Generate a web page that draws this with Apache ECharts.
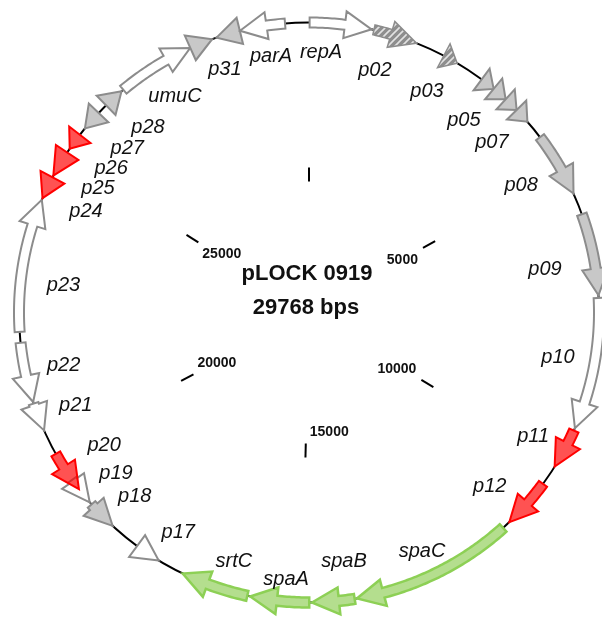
<!DOCTYPE html>
<html>
<head>
<meta charset="utf-8">
<script src="https://cdn.jsdelivr.net/npm/echarts@6/dist/echarts.min.js"></script>
<style>
  html, body { margin: 0; padding: 0; background: #ffffff; }
  #chart { width: 602px; height: 619px; }
</style>
</head>
<body>
<div id="chart"></div>
<script>
// ---- plasmid data -------------------------------------------------------
const plasmidName = 'pLOCK 0919';
const plasmidLength = 29768;

const geneNames = ['repA', 'p02', 'p03', 'p04', 'p05', 'p06', 'p07', 'p08', 'p09', 'p10',
  'p11', 'p12', 'spaC', 'spaB', 'spaA', 'srtC', 'p17', 'p18', 'p19', 'p20',
  'p21', 'p22', 'p23', 'p24', 'p25', 'p26', 'p27', 'p28', 'umuC', 'p30', 'p31', 'parA'];
const geneStarts = [10, 1070, 2290, 3020, 3270, 3530, 3780, 4366, 5805, 7204,
  9428, 10437, 11409, 14135, 14880, 15900, 17465, 18408, 18946, 19225,
  20343, 20840, 22010, 24247, 24655, 25170, 25584, 26096, 26476, 27770, 28230, 28630];
const geneEnds = [1030, 1800, 2540, 3270, 3530, 3780, 4040, 5441, 7160, 9386,
  10097, 11271, 14097, 14835, 15851, 17018, 17890, 18900, 19411, 19914,
  20813, 21830, 24217, 24625, 25096, 25452, 25922, 26437, 27767, 28154, 28627, 29376];
// 1 = forward (clockwise), -1 = reverse
const geneStrands = [1, 1, 1, 1, 1, 1, 1, 1, 1, 1,
  1, 1, 1, 1, 1, 1, -1, -1, -1, -1,
  -1, -1, 1, -1, -1, -1, -1, 1, 1, 1, -1, -1];
const geneGroups = ['white', 'hatch', 'hatch', 'grey', 'grey', 'grey', 'grey', 'grey', 'grey', 'white',
  'red', 'red', 'green', 'green', 'green', 'green', 'white', 'grey', 'white', 'red',
  'white', 'white', 'white', 'red', 'red', 'red', 'grey', 'grey', 'white', 'grey', 'grey', 'white'];

// genes whose names are printed
const labelNames = ['repA', 'p02', 'p03', 'p05', 'p07', 'p08', 'p09', 'p10', 'p11', 'p12',
  'spaC', 'spaB', 'spaA', 'srtC', 'p17', 'p18', 'p19', 'p20', 'p21', 'p22',
  'p23', 'p24', 'p25', 'p26', 'p27', 'p28', 'umuC', 'p31', 'parA'];

const tickValues = [0, 5000, 10000, 15000, 20000, 25000];
const tickLabels = ['', '5000', '10000', '15000', '20000', '25000'];

// ---- layout --------------------------------------------------------------
// label anchors: [position along the map (bp), distance from centre]
const labelAnchors = [[219, 260], [1258, 251], [2320, 251], [3212, 247], [3889, 250],
  [4893, 247], [6579, 240], [8280, 253], [9829, 256], [11076, 251],
  [12788, 264], [14221, 251], [15290, 268], [16273, 260], [17423, 256],
  [18482, 253], [19040, 251], [19607, 244], [20536, 251], [21326, 251],
  [22855, 247], [24351, 245], [24852, 245], [25313, 245], [25809, 245],
  [26370, 245], [27134, 254], [28188, 257], [29071, 259]];

const RING = 290;        // backbone radius
const BODY = 5;          // half width of an arrow body
const HEAD = 13.5;       // half width of an arrow head
const HEAD_LEN = 27;     // arrow head length along the ring
const TICK_IN = 131, TICK_OUT = 145;
const FONT = '"Liberation Sans", Arial, sans-serif';

// diagonal hatching used for p02 / p03
const hatch = document.createElement('canvas');
hatch.width = 7; hatch.height = 7;
(function () {
  const c = hatch.getContext('2d');
  c.fillStyle = '#8e8e8e';
  c.fillRect(0, 0, 7, 7);
  c.strokeStyle = 'rgba(235,235,235,0.9)';
  c.lineWidth = 1.6;
  c.beginPath();
  c.moveTo(-1, 8); c.lineTo(8, -1);
  c.moveTo(-4, 4); c.lineTo(4, -4);
  c.moveTo(3, 11); c.lineTo(11, 3);
  c.stroke();
})();

const groupStyle = {
  white: { fill: '#ffffff', stroke: '#8c8c8c', lineWidth: 2 },
  grey:  { fill: '#c8c8c8', stroke: '#8c8c8c', lineWidth: 2 },
  hatch: { fill: { image: hatch, repeat: 'repeat' }, stroke: '#8c8c8c', lineWidth: 1.5 },
  red:   { fill: 'rgba(255,0,0,0.68)', stroke: '#ff0000', lineWidth: 2 },
  green: { fill: '#b4de8e', stroke: '#8dd055', lineWidth: 2.5 }
};

function arrowPoints(api, s, e, strand) {
  const circ = 2 * Math.PI * RING;
  const lenPx = (e - s) / plasmidLength * circ;
  const headBp = Math.min(HEAD_LEN, lenPx) / circ * plasmidLength;
  const step = 40;
  const P = (r, bp) => api.coord([r, bp]);
  const pts = [];
  if (strand > 0) {
    const h = e - headBp;
    if (h > s + 1) {
      for (let bp = s; bp < h; bp += step) pts.push(P(RING + BODY, bp));
      pts.push(P(RING + BODY, h));
    }
    pts.push(P(RING + HEAD, h));
    pts.push(P(RING, e));
    pts.push(P(RING - HEAD, h));
    if (h > s + 1) {
      pts.push(P(RING - BODY, h));
      for (let bp = h - step; bp > s; bp -= step) pts.push(P(RING - BODY, bp));
      pts.push(P(RING - BODY, s));
    }
  } else {
    const h = s + headBp;
    pts.push(P(RING, s));
    pts.push(P(RING + HEAD, h));
    if (e > h + 1) {
      for (let bp = h; bp < e; bp += step) pts.push(P(RING + BODY, bp));
      pts.push(P(RING + BODY, e));
      pts.push(P(RING - BODY, e));
      for (let bp = e - step; bp > h; bp -= step) pts.push(P(RING - BODY, bp));
      pts.push(P(RING - BODY, h));
    }
    pts.push(P(RING - HEAD, h));
  }
  return pts;
}

const geneData = geneNames.map((n, i) => [RING, geneStarts[i], i]);

const chart = echarts.init(document.getElementById('chart'), null, { renderer: 'canvas' });

chart.setOption({
  animation: false,
  backgroundColor: '#ffffff',
  polar: { center: [309, 312.5], radius: [0, 320] },
  angleAxis: {
    type: 'value', min: 0, max: plasmidLength, startAngle: 90, clockwise: true,
    axisLine: { show: false }, axisTick: { show: false },
    axisLabel: { show: false }, splitLine: { show: false }
  },
  radiusAxis: {
    type: 'value', min: 0, max: 320,
    axisLine: { show: false }, axisTick: { show: false },
    axisLabel: { show: false }, splitLine: { show: false }
  },
  graphic: [
    { type: 'text', x: 307, y: 274, z: 10,
      style: { text: plasmidName, font: 'bold 22px ' + FONT, fill: '#111', align: 'center', verticalAlign: 'middle' } },
    { type: 'text', x: 306, y: 308, z: 10,
      style: { text: plasmidLength + ' bps', font: 'bold 22px ' + FONT, fill: '#111', align: 'center', verticalAlign: 'middle' } }
  ],
  series: [
    {
      // backbone
      type: 'custom', coordinateSystem: 'polar', z: 1, silent: true,
      data: [[RING, 0]],
      renderItem: function (params, api) {
        const c = api.coord([0, 0]);
        const p = api.coord([RING, 0]);
        const r = Math.hypot(p[0] - c[0], p[1] - c[1]);
        return { type: 'circle', shape: { cx: c[0], cy: c[1], r: r },
          style: { fill: 'none', stroke: '#000', lineWidth: 2 } };
      }
    },
    {
      // white underlay so the backbone stops at every gene
      type: 'custom', coordinateSystem: 'polar', z: 2, silent: true,
      data: geneData,
      renderItem: function (params, api) {
        const i = params.dataIndex;
        return { type: 'polygon',
          shape: { points: arrowPoints(api, geneStarts[i], geneEnds[i], geneStrands[i]) },
          style: { fill: '#ffffff', stroke: '#ffffff', lineWidth: 1 } };
      }
    },
    {
      // genes
      type: 'custom', coordinateSystem: 'polar', z: 3, silent: true,
      data: geneData,
      renderItem: function (params, api) {
        const i = params.dataIndex;
        const st = groupStyle[geneGroups[i]];
        return { type: 'polygon',
          shape: { points: arrowPoints(api, geneStarts[i], geneEnds[i], geneStrands[i]) },
          style: { fill: st.fill, stroke: st.stroke, lineWidth: st.lineWidth, lineJoin: 'miter' } };
      }
    },
    {
      // gene names
      type: 'custom', coordinateSystem: 'polar', z: 4, silent: true,
      data: labelNames.map((n, i) => [labelAnchors[i][1], labelAnchors[i][0]]),
      renderItem: function (params, api) {
        const i = params.dataIndex;
        const p = api.coord([labelAnchors[i][1], labelAnchors[i][0]]);
        return { type: 'text', x: p[0], y: p[1],
          style: { text: labelNames[i], font: 'italic 20px ' + FONT, fill: '#111',
            align: 'center', verticalAlign: 'middle' } };
      }
    },
    {
      // position ticks
      type: 'custom', coordinateSystem: 'polar', z: 4, silent: true,
      data: tickValues.map(v => [TICK_IN, v]),
      renderItem: function (params, api) {
        const v = tickValues[params.dataIndex];
        const a = api.coord([TICK_IN, v]);
        const b = api.coord([TICK_OUT, v]);
        const ang = v / plasmidLength * 2 * Math.PI;
        const sn = Math.sin(ang), cs = Math.cos(ang);
        const right = sn > 0.01;
        const top = cs > 0;
        return { type: 'group', children: [
          { type: 'line', shape: { x1: a[0], y1: a[1], x2: b[0], y2: b[1] },
            style: { stroke: '#000', lineWidth: 2 } },
          { type: 'text', x: a[0] + (right ? -5 : 4), y: a[1] + (top ? 5 : -4),
            style: { text: tickLabels[params.dataIndex], font: 'bold 14px ' + FONT, fill: '#111',
              align: right ? 'right' : 'left', verticalAlign: top ? 'top' : 'bottom' } }
        ] };
      }
    }
  ]
});
</script>
</body>
</html>
